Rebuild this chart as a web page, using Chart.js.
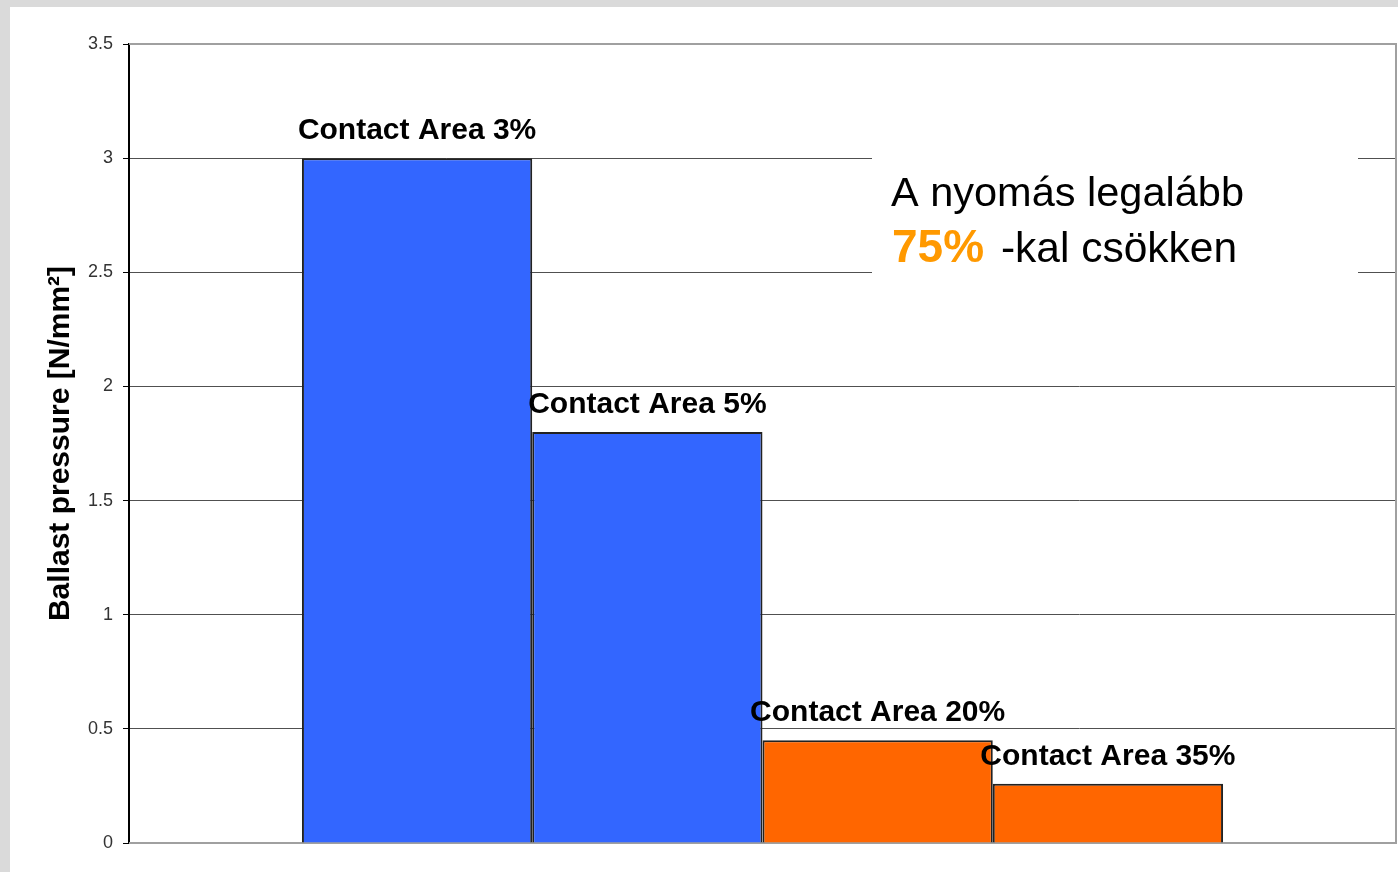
<!DOCTYPE html>
<html><head><meta charset="utf-8">
<script src="https://cdn.jsdelivr.net/npm/chart.js@4"></script>
<style>
html,body{margin:0;padding:0;background:#dadada;width:1398px;height:872px;overflow:hidden}
#wrap{position:absolute;left:10px;top:7px;width:1388px;height:865px;background:#fff}
canvas{display:block}
</style></head><body>
<div id="wrap"><canvas id="c" width="1388" height="865"></canvas></div>
<script>
const contactAreas = ['Contact Area 3%', 'Contact Area 5%', 'Contact Area 20%', 'Contact Area 35%'];
const pressures = [3.0, 1.8, 0.45, 0.26];
const barColors = ['#3366FF', '#3366FF', '#FF6600', '#FF6600'];
const yTicks = [0, 0.5, 1, 1.5, 2, 2.5, 3, 3.5];
const yAxisTitle = 'Ballast pressure [N/mm²]';
const noteLine1 = 'A nyomás legalább';
const noteHighlight = '75%';
const noteLine2 = ' -kal csökken';

const FONT = "'Liberation Sans', Arial, sans-serif";

const overlay = {
  id: 'overlay',
  beforeDatasetsDraw(chart) {
    const {ctx, chartArea: a} = chart;
    ctx.save();
    ctx.strokeStyle = '#a0a0a0';
    ctx.lineWidth = 2;
    ctx.beginPath();
    ctx.moveTo(a.left, a.top);
    ctx.lineTo(a.right, a.top);
    ctx.lineTo(a.right, a.bottom);
    ctx.lineTo(a.left, a.bottom);
    ctx.stroke();
    ctx.restore();
  },
  afterDatasetsDraw(chart) {
    const {ctx} = chart;
    ctx.save();
    ctx.font = 'bold 30px ' + FONT;
    ctx.fillStyle = '#000';
    ctx.textAlign = 'center';
    ctx.textBaseline = 'alphabetic';
    chart.data.datasets.forEach((ds, i) => {
      const el = chart.getDatasetMeta(i).data[0];
      ctx.fillText(ds.label, el.x, el.y - 19);
    });
    ctx.restore();
  },
  afterDraw(chart) {
    const {ctx} = chart;
    ctx.save();
    ctx.fillStyle = '#fff';
    ctx.fillRect(862, 133, 486, 160);
    ctx.textBaseline = 'alphabetic';
    ctx.textAlign = 'left';
    ctx.fillStyle = '#000';
    ctx.font = '41.5px ' + FONT;
    ctx.fillText(noteLine1, 881, 199);
    ctx.font = 'bold 46px ' + FONT;
    ctx.fillStyle = '#FF9900';
    ctx.fillText(noteHighlight, 882, 255);
    const w = ctx.measureText(noteHighlight).width;
    ctx.font = '42.5px ' + FONT;
    ctx.fillStyle = '#000';
    ctx.fillText(noteLine2, 887 + w, 255);
    ctx.restore();
  }
};

new Chart(document.getElementById('c'), {
  type: 'bar',
  data: {
    labels: [''],
    datasets: contactAreas.map((name, i) => ({
      label: name,
      data: [pressures[i]],
      backgroundColor: barColors[i],
      borderColor: '#222',
      borderWidth: 2,
      categoryPercentage: 0.727,
      barPercentage: 1
    }))
  },
  options: {
    responsive: false,
    animation: false,
    layout: {padding: {top: 37, right: 2, bottom: 29, left: 0}},
    plugins: {legend: {display: false}, tooltip: {enabled: false}},
    scales: {
      x: {display: false, offset: true},
      y: {
        min: 0, max: 3.5,
        afterBuildTicks: s => { s.ticks = yTicks.map(v => ({value: v})); },
        afterFit: s => { s.width = 119; },
        ticks: {font: {family: FONT, size: 18}, color: '#333', padding: 10,
          callback: v => String(v)},
        grid: {
          color: c => (c.tick && (c.tick.value === 0 || c.tick.value === 3.5)) ? 'rgba(0,0,0,0)' : '#505050',
          lineWidth: 1, tickLength: 6, tickColor: '#000'
        },
        border: {color: '#000', width: 2},
        title: {display: true, text: yAxisTitle, color: '#000',
          font: {family: FONT, size: 30, weight: 'bold'}, padding: {top: 33, bottom: 0}}
      }
    }
  },
  plugins: [overlay]
});
</script>
</body></html>
